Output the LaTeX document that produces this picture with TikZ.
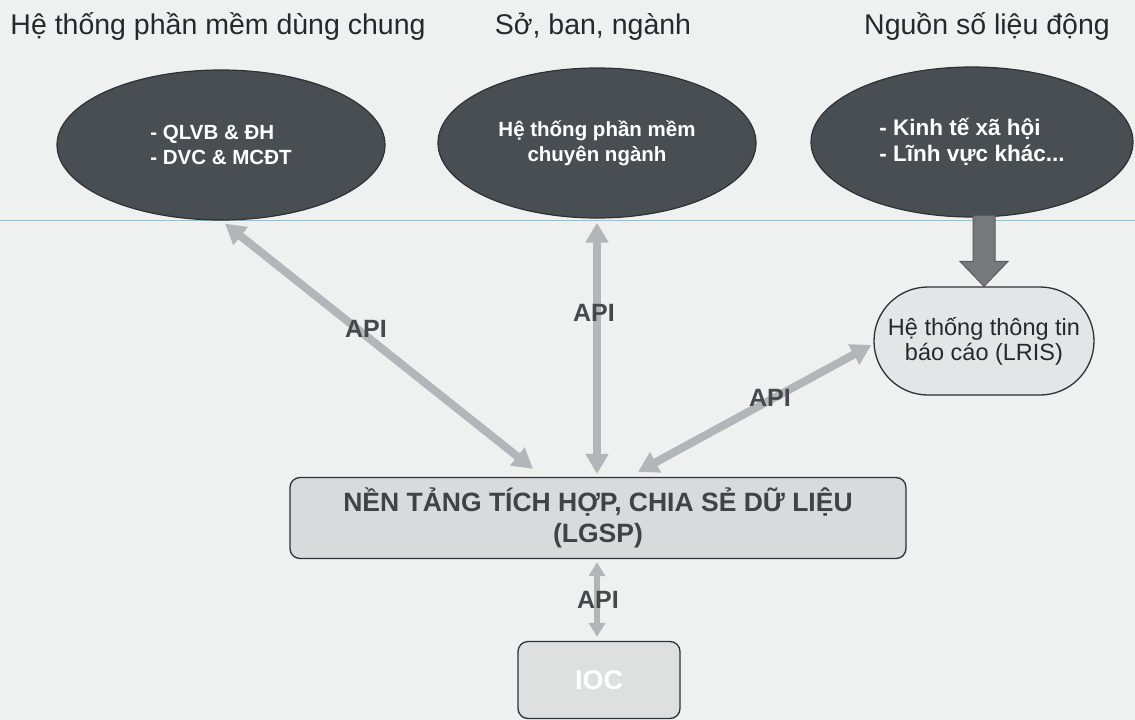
\documentclass[tikz,border=0pt]{standalone}
\usepackage{fontspec}
\setmainfont{Liberation Sans}
\usetikzlibrary{arrows.meta,calc,shapes.geometric}
\definecolor{paper}{HTML}{EFF1F1}
\definecolor{darkfill}{HTML}{484E52}
\definecolor{darkline}{HTML}{2E3234}
\definecolor{apiarrow}{HTML}{B3B6B8}
\definecolor{boxfill}{HTML}{D8DADB}
\definecolor{inkgray}{HTML}{25292B}
\definecolor{bigarrow}{HTML}{76797B}
\definecolor{rule}{HTML}{86C6DC}
\tikzset{
  heading/.style={font=\fontsize{28.5}{32}\selectfont, text=inkgray, anchor=base},
  darkellipse/.style={ellipse, draw=darkline, line width=1.2pt, fill=darkfill,
    minimum width=#1, minimum height=150pt, inner sep=0pt,
    text=white, font=\bfseries\fontsize{20.5}{25}\selectfont},
  apilink/.style={draw=apiarrow, line width=8pt,
    {Triangle[width=22pt,length=20pt]}-{Triangle[width=22pt,length=20pt]}},
  apilabel/.style={font=\bfseries\fontsize{25}{28}\selectfont, text=inkgray!85},
  platebox/.style={rectangle, rounded corners=10pt, draw=darkline, line width=1.3pt,
    fill=boxfill, align=center},
}
\begin{document}
\begin{tikzpicture}[x=1pt,y=-1pt]
  \useasboundingbox (0,0) rectangle (1135,720);
  \fill[paper] (0,0) rectangle (1135,720);
  \draw[rule, line width=1pt] (0,220) -- (1135,220);

  % column headings
  \node[heading] (h1) at (218,34) {Hệ thống phần mềm dùng chung};
  \node[heading] (h2) at (593,34) {Sở, ban, ngành};
  \node[heading] (h3) at (987,34) {Nguồn số liệu động};

  % source systems
  \node[darkellipse=328pt, align=left] (ell1) at (221,145) {- QLVB \& ĐH\\- DVC \& MCĐT};
  \node[darkellipse=318pt, align=center] (ell2) at (597,143) {Hệ thống phần mềm\\chuyên ngành};
  \node[darkellipse=322pt, align=left, font=\bfseries\fontsize{22.5}{26}\selectfont]
        (ell3) at (972,142) {- Kinh tế xã hội\\- Lĩnh vực khác...};

  % reporting system
  \node[platebox, rounded corners=54pt, fill=boxfill!70!white, minimum width=220pt,
        minimum height=108pt, font=\fontsize{23.5}{25}\selectfont, text=inkgray]
        (lris) at (984,341) {Hệ thống thông tin\\báo cáo (LRIS)};

  % integration platform
  \node[platebox, minimum width=616pt, minimum height=81pt,
        font=\bfseries\fontsize{26.5}{31}\selectfont, text=inkgray!88]
        (lgsp) at (598,518) {NỀN TẢNG TÍCH HỢP, CHIA SẺ DỮ LIỆU\\(LGSP)};

  % operations centre
  \node[platebox, fill=boxfill!85!white, minimum width=162pt, minimum height=77pt,
        font=\bfseries\fontsize{27}{30}\selectfont, text=white]
        (ioc) at (599,680) {IOC};

  % API links
  \draw[apilink] ($(ell1.south)+(4,3)$) -- ($(lgsp.north)+(-65,-8)$);
  \draw[apilink] ($(ell2.south)+(0,4)$) -- ($(lgsp.north)+(-1,-3)$);
  \draw[apilink] ($(lris.west)+(-2,4)$) -- ($(lgsp.north)+(40,-5)$);
  \draw[apilink, line width=6pt,
        {Triangle[width=16pt,length=14pt]}-{Triangle[width=16pt,length=14pt]}]
        ($(lgsp.south)+(-1,3)$) -- ($(ioc.north)+(-2,-4)$);

  % data feed into LRIS: block arrow with outline
  \coordinate (feedtop) at ($(ell3.south -| lris.north)+(0,-2)$);
  \filldraw[fill=bigarrow, draw=darkline!80, line width=1pt, line join=miter]
    ($(feedtop)+(-11,0)$) -- ($(lris.north)+(-11,-25)$) -- ($(lris.north)+(-24,-25)$)
    -- (lris.north) -- ($(lris.north)+(24,-25)$) -- ($(lris.north)+(11,-25)$)
    -- ($(feedtop)+(11,0)$) -- cycle;

  % API labels
  \node[apilabel] (api1) at (366,329) {API};
  \node[apilabel] (api2) at (594,313) {API};
  \node[apilabel] (api3) at (770,398) {API};
  \node[apilabel] (api4) at (598,600) {API};
\end{tikzpicture}
\end{document}
